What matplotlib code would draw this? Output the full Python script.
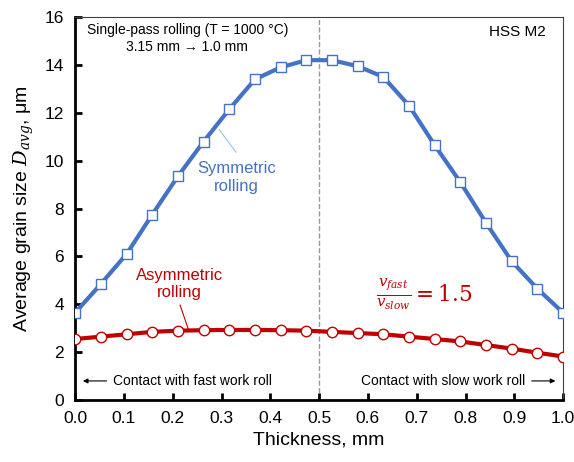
import matplotlib.pyplot as plt

plt.rcParams['font.family'] = ['Liberation Sans', 'DejaVu Sans']
plt.rcParams['mathtext.fontset'] = 'dejavuserif'

# thickness positions (20 points across the strip)
thickness = [0.0, 0.0526, 0.1053, 0.1579, 0.2105, 0.2632, 0.3158, 0.3684, 0.4211, 0.4737,
             0.5263, 0.5789, 0.6316, 0.6842, 0.7368, 0.7895, 0.8421, 0.8947, 0.9474, 1.0]
symmetric = [3.65, 4.85, 6.1, 7.75, 9.35, 10.8, 12.15, 13.4, 13.9, 14.2,
             14.2, 13.95, 13.5, 12.3, 10.65, 9.1, 7.4, 5.8, 4.65, 3.65]
asymmetric = [2.55, 2.65, 2.75, 2.85, 2.9, 2.92, 2.93, 2.93, 2.92, 2.9,
              2.85, 2.8, 2.75, 2.65, 2.55, 2.45, 2.3, 2.15, 1.98, 1.82]

blue = '#4472C4'
red = '#C00000'

fig = plt.figure(figsize=(5.74, 4.62), dpi=100)
ax = fig.add_axes([0.131, 0.134, 0.85, 0.829])

ax.axvline(0.5, color='#999999', linestyle='--', linewidth=1, zorder=1)
ax.plot(thickness, symmetric, color=blue, linewidth=3, marker='s', markersize=7.5,
        markerfacecolor='white', markeredgecolor=blue, markeredgewidth=1, zorder=3)
ax.plot(thickness, asymmetric, color=red, linewidth=3, marker='o', markersize=7.5,
        markerfacecolor='white', markeredgecolor=red, markeredgewidth=1, zorder=3)

ax.set_xlim(0, 1)
ax.set_ylim(0, 16)
ax.set_xticks([0, 0.1, 0.2, 0.3, 0.4, 0.5, 0.6, 0.7, 0.8, 0.9, 1.0])
ax.set_yticks(range(0, 17, 2))
ax.xaxis.set_major_formatter(plt.FormatStrFormatter('%.1f'))
ax.tick_params(direction='in', length=5, width=2, labelsize=12.5, pad=8)

for s in ['left', 'bottom']:
    ax.spines[s].set_linewidth(2)
for s in ['top', 'right']:
    ax.spines[s].set_linewidth(0.8)
    ax.spines[s].set_color('#404040')

ax.set_xlabel('Thickness, mm', fontsize=14, labelpad=4)
ax.set_ylabel('Average grain size $D_{avg}$, μm', fontsize=14, labelpad=6)

ax.text(0.23, 15.75, 'Single-pass rolling (T = 1000 °C)\n3.15 mm → 1.0 mm',
        ha='center', va='top', fontsize=10, linespacing=1.3)
ax.text(0.965, 15.65, 'HSS M2', ha='right', va='top', fontsize=11)

# callouts
ax.plot([0.295, 0.33], [11.3, 10.35], color='#9DC3E6', linewidth=0.8)
ax.text(0.33, 9.3, 'Symmetric\nrolling', color=blue, ha='center', va='center', fontsize=12)
ax.plot([0.215, 0.232], [3.97, 2.95], color=red, linewidth=0.8)
ax.text(0.213, 4.85, 'Asymmetric\nrolling', color=red, ha='center', va='center', fontsize=12)
ax.text(0.715, 4.4, r'$\frac{v_{fast}}{v_{slow}} = 1.5$', color=red, ha='center', va='center', fontsize=15.5)

ax.annotate('', xy=(0.01, 0.8), xytext=(0.07, 0.8),
            arrowprops=dict(arrowstyle='-|>', color='black', lw=0.8, mutation_scale=7))
ax.text(0.078, 0.8, 'Contact with fast work roll', ha='left', va='center', fontsize=10)
ax.annotate('', xy=(0.99, 0.8), xytext=(0.93, 0.8),
            arrowprops=dict(arrowstyle='-|>', color='black', lw=0.8, mutation_scale=7))
ax.text(0.922, 0.8, 'Contact with slow work roll', ha='right', va='center', fontsize=10)

fig.savefig('out.png', dpi=100)
